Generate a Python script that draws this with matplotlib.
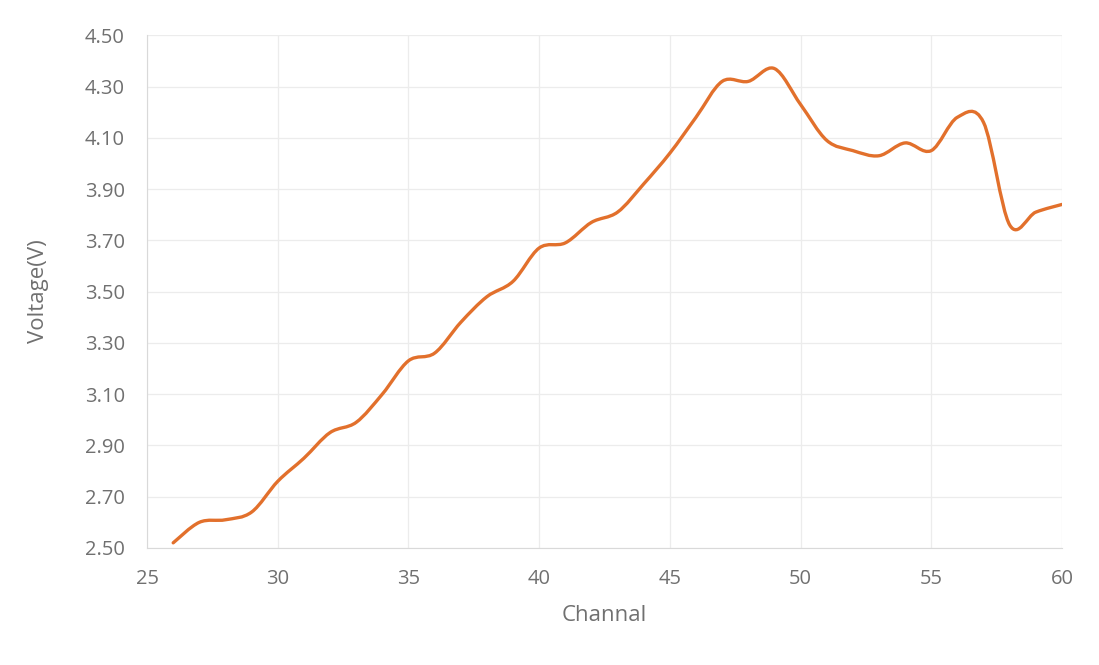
import matplotlib.pyplot as plt
from matplotlib.path import Path
from matplotlib.patches import PathPatch
import numpy as np

channels = list(range(26, 61))
voltage = [2.52, 2.60, 2.61, 2.64, 2.76, 2.85, 2.95, 2.99, 3.10, 3.23,
           3.26, 3.38, 3.48, 3.54, 3.67, 3.69, 3.77, 3.81, 3.92, 4.04,
           4.18, 4.32, 4.32, 4.37, 4.23, 4.09, 4.05, 4.03, 4.08, 4.05,
           4.18, 4.16, 3.76, 3.81, 3.84]
yticks = [2.50, 2.70, 2.90, 3.10, 3.30, 3.50, 3.70, 3.90, 4.10, 4.30, 4.50]
xticks = [25, 30, 35, 40, 45, 50, 55, 60]


def smooth_path(xs, ys):
    # Excel-like smoothed line: cubic bezier segments through every point
    pts = np.column_stack([xs, ys]).astype(float)
    n = len(pts)
    verts = [pts[0]]
    codes = [Path.MOVETO]
    for i in range(n - 1):
        p0 = pts[i - 1] if i > 0 else pts[i]
        p1 = pts[i]
        p2 = pts[i + 1]
        p3 = pts[i + 2] if i + 2 < n else pts[i + 1]
        c1 = p1 + (p2 - p0) / 6
        c2 = p2 - (p3 - p1) / 6
        verts += [c1, c2, p2]
        codes += [Path.CURVE4] * 3
    return Path(verts, codes)


plt.rcParams['font.family'] = ['Open Sans', 'DejaVu Sans']
fig = plt.figure(figsize=(10.99, 6.65), dpi=100)
ax = fig.add_axes([0.1338, 0.176, 0.8325, 0.771])

ax.add_patch(PathPatch(smooth_path(channels, voltage), facecolor='none',
                       edgecolor='#E2702C', lw=2.4, capstyle='round',
                       joinstyle='round', zorder=3))

ax.set_xlim(25, 60)
ax.set_ylim(2.5, 4.5)
ax.set_xticks(xticks)
ax.set_yticks(yticks)
ax.set_yticklabels([f"{v:.2f}" for v in yticks])
ax.grid(True, color='#ececec', lw=0.9)
ax.set_axisbelow(True)
for s in ['top', 'right']:
    ax.spines[s].set_visible(False)
for s in ['left', 'bottom']:
    ax.spines[s].set_color('#d9d9d9')
ax.tick_params(length=0, labelsize=14.5, labelcolor='#707070')
ax.tick_params(axis='y', pad=16)
ax.tick_params(axis='x', pad=15)
ax.set_xlabel("Channal", fontsize=16, color='#707070', labelpad=12)
ax.set_ylabel("Voltage(V)", fontsize=16, color='#707070', labelpad=26)

fig.savefig("out.png", dpi=100, facecolor='white')
